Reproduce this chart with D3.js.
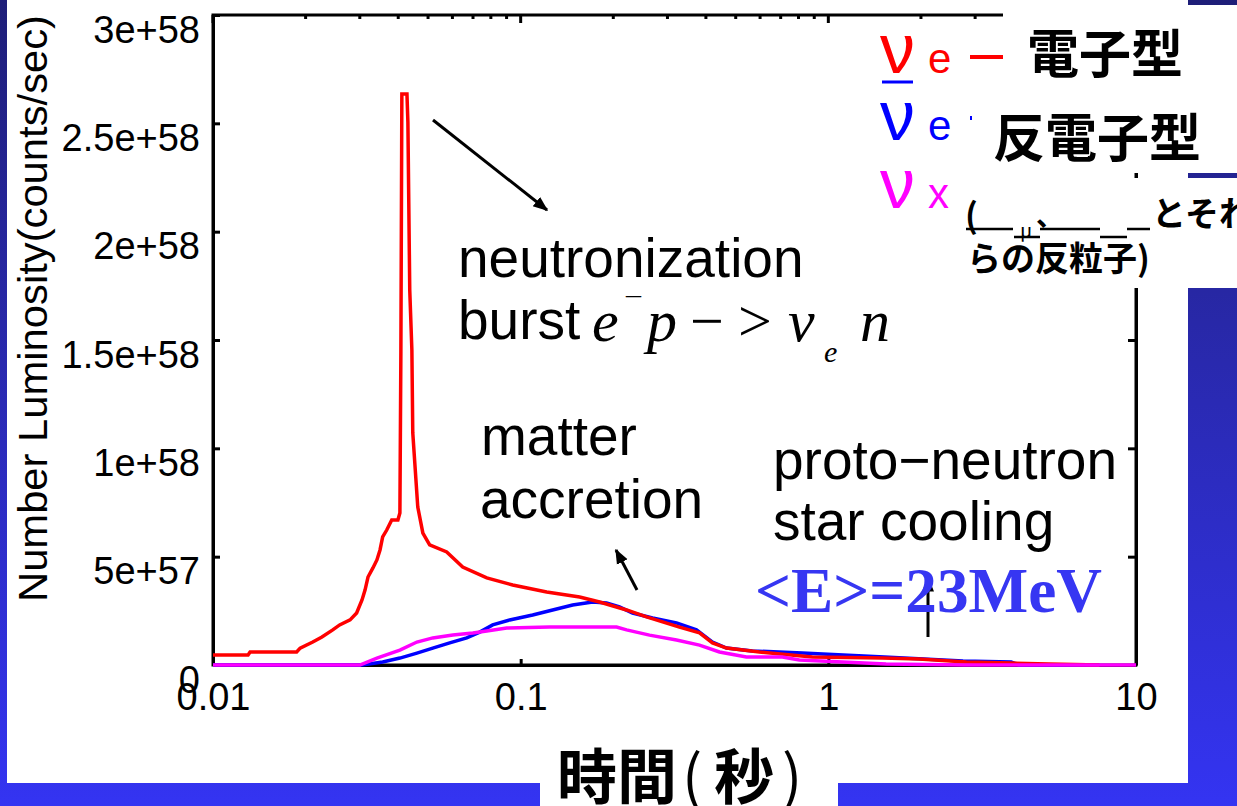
<!DOCTYPE html>
<html>
<head>
<meta charset="utf-8">
<script src="https://cdn.jsdelivr.net/npm/d3@7"></script>
<style>
  body { margin: 0; background: #fff; }
  svg { display: block; }
</style>
</head>
<body>
<div id="chart"></div>
<script>
// time in seconds, luminosity in units of 1e58 counts/sec
const redTime = [0.01, 0.013, 0.0132, 0.0187, 0.0192, 0.0211, 0.0226, 0.0245, 0.0258, 0.0279, 0.0293, 0.0305, 0.0312, 0.0319, 0.0331, 0.0341, 0.0349, 0.0356, 0.0367, 0.0381, 0.0399, 0.0405, 0.0408, 0.0411, 0.0427, 0.0430, 0.0436, 0.0443, 0.0446, 0.0463, 0.0481, 0.0506, 0.0575, 0.0648, 0.0776, 0.0942, 0.1215, 0.1555, 0.1805, 0.2209, 0.2565, 0.3283, 0.3813, 0.4202, 0.4666, 0.597, 0.887, 1.50, 1.97, 2.81, 3.93, 5.2, 7.6];
const redLum = [0.046, 0.046, 0.060, 0.060, 0.078, 0.106, 0.129, 0.162, 0.185, 0.208, 0.240, 0.300, 0.346, 0.406, 0.448, 0.485, 0.531, 0.591, 0.623, 0.669, 0.669, 0.702, 1.445, 2.635, 2.635, 2.506, 1.731, 1.454, 1.071, 0.729, 0.609, 0.554, 0.522, 0.452, 0.402, 0.369, 0.337, 0.314, 0.291, 0.254, 0.222, 0.175, 0.148, 0.102, 0.078, 0.060, 0.037, 0.032, 0.028, 0.014, 0.009, 0.005, 0];

const blueTime = [0.01, 0.0305, 0.0356, 0.0405, 0.0460, 0.0518, 0.0588, 0.0668, 0.0736, 0.0811, 0.0921, 0.1094, 0.127, 0.1475, 0.1713, 0.1902, 0.2096, 0.231, 0.2683, 0.321, 0.3727, 0.4202, 0.4666, 0.566, 0.824, 1.52, 2.74, 3.93, 4.17, 7.6];
const blueLum = [0, 0, 0.014, 0.032, 0.055, 0.078, 0.102, 0.125, 0.152, 0.185, 0.208, 0.231, 0.254, 0.277, 0.291, 0.286, 0.268, 0.240, 0.217, 0.194, 0.162, 0.106, 0.078, 0.065, 0.055, 0.037, 0.018, 0.014, 0, 0];

const magTime = [0.01, 0.0300, 0.0341, 0.0405, 0.0460, 0.0518, 0.0602, 0.0699, 0.0776, 0.0901, 0.1243, 0.205, 0.2209, 0.2623, 0.321, 0.3813, 0.4427, 0.5417, 0.709, 0.805, 1.54, 2.76, 10];
const magLum = [0, 0, 0.032, 0.069, 0.106, 0.125, 0.138, 0.148, 0.157, 0.171, 0.175, 0.175, 0.162, 0.138, 0.115, 0.092, 0.060, 0.037, 0.037, 0.023, 0.005, 0, 0];

const yTicks = [0, 0.5, 1, 1.5, 2, 2.5, 3];
const yTickLabels = ["0", "5e+57", "1e+58", "1.5e+58", "2e+58", "2.5e+58", "3e+58"];
const xTicks = [0.01, 0.1, 1, 10];
const xTickLabels = ["0.01", "0.1", "1", "10"];

const W = 1237, H = 806;
const SANS = "'Liberation Sans', Arial, sans-serif";
const SERIF = "'Liberation Serif', 'Times New Roman', serif";
const CJK = "'Noto Sans CJK JP', 'Noto Sans CJK SC', sans-serif";

let svg = d3.select("#chart").append("svg").attr("width", W).attr("height", H);
let defs = svg.append("defs");

// slide background
let grad = defs.append("linearGradient").attr("id", "bg").attr("x1", 0).attr("y1", 0).attr("x2", 0).attr("y2", 1);
grad.append("stop").attr("offset", "0%").attr("stop-color", "#1e1e78");
grad.append("stop").attr("offset", "40%").attr("stop-color", "#2828a8");
grad.append("stop").attr("offset", "100%").attr("stop-color", "#3434f2");
svg.append("rect").attr("width", W).attr("height", H).attr("fill", "url(#bg)");

// white picture area
svg.append("rect").attr("x", 7).attr("y", 0).attr("width", 1181).attr("height", 783).attr("fill", "#fff");

defs.append("marker")
  .attr("id", "head")
  .attr("viewBox", "0 0 10 10")
  .attr("refX", 9).attr("refY", 5)
  .attr("markerWidth", 5).attr("markerHeight", 5)
  .attr("orient", "auto")
  .append("path").attr("d", "M0,1L10,5L0,9Z").attr("fill", "#000");

let x = d3.scaleLog().domain([0.01, 10]).range([213, 1136]);
let y = d3.scaleLinear().domain([0, 3]).range([665, 15]);

// frame
svg.append("rect")
  .attr("x", x(0.01)).attr("y", y(3))
  .attr("width", x(10) - x(0.01)).attr("height", y(0) - y(3))
  .attr("fill", "none").attr("stroke", "#000").attr("stroke-width", 3);

let gLeft = svg.append("g").attr("transform", "translate(" + x(0.01) + ",0)")
  .call(d3.axisLeft(y).tickValues(yTicks).tickFormat((d, i) => yTickLabels[i])
    .tickSizeInner(-7).tickSizeOuter(0).tickPadding(13));
gLeft.selectAll("text").attr("dy", 27).attr("font-size", 38).attr("font-family", SANS).attr("fill", "#000");

let gRight = svg.append("g").attr("transform", "translate(" + x(10) + ",0)")
  .call(d3.axisRight(y).tickValues(yTicks).tickFormat("").tickSizeInner(-8).tickSizeOuter(0));

let gBottom = svg.append("g").attr("transform", "translate(0," + y(0) + ")")
  .call(d3.axisBottom(x).tickValues(xTicks).tickFormat((d, i) => xTickLabels[i])
    .tickSizeInner(-6).tickSizeOuter(0));
gBottom.selectAll("text").attr("y", 45).attr("dy", 0).attr("font-size", 38).attr("font-family", SANS).attr("fill", "#000");

[gLeft, gRight, gBottom].forEach(function (g) {
  g.selectAll(".domain").attr("stroke-width", 3);
  g.selectAll(".tick line").attr("stroke-width", 3);
});

// top axis minor / major ticks
svg.append("g").selectAll("line")
  .data(x.ticks())
  .join("line")
  .attr("x1", d => x(d)).attr("x2", d => x(d))
  .attr("y1", y(3))
  .attr("y2", d => y(3) + (Math.abs(Math.log10(d) - Math.round(Math.log10(d))) < 1e-6 ? 8 : 4))
  .attr("stroke", "#000").attr("stroke-width", 3);

// curves
let line = d3.line().x(d => x(d[0])).y(d => y(d[1]));
let series = [
  { color: "#0000ff", pts: d3.zip(blueTime, blueLum) },
  { color: "#ff0000", pts: d3.zip(redTime, redLum) },
  { color: "#ff00ff", pts: d3.zip(magTime, magLum) }
];
svg.append("g").selectAll("path")
  .data(series)
  .join("path")
  .attr("d", d => line(d.pts))
  .attr("fill", "none")
  .attr("stroke", d => d.color)
  .attr("stroke-width", 3.5);

// axis titles
svg.append("text")
  .attr("transform", "translate(47,602) rotate(-90)")
  .attr("font-family", SANS).attr("font-size", 41)
  .attr("textLength", 587).attr("lengthAdjust", "spacingAndGlyphs")
  .text("Number Luminosity(counts/sec)");

// annotations
function label(txt, px, py, size) {
  svg.append("text").attr("x", px).attr("y", py)
    .attr("font-family", SANS).attr("font-size", size || 55).attr("fill", "#000").text(txt);
}
label("neutronization", 458, 277);
label("burst", 458, 339);
label("matter", 481, 455);
label("accretion", 480, 518);
label("proto\u2212neutron", 773, 479);
label("star cooling", 773, 540);

let math = svg.append("g").attr("font-family", SERIF).attr("font-style", "italic").attr("fill", "#000");
math.append("text").attr("x", 592).attr("y", 341).attr("font-size", 60).text("e");
math.append("text").attr("x", 626).attr("y", 318).attr("font-size", 30).attr("font-style", "normal").text("\u00af");
math.append("text").attr("x", 647).attr("y", 341).attr("font-size", 60).text("p");
math.append("text").attr("x", 690).attr("y", 341).attr("font-size", 60).attr("font-style", "normal").text("\u2212");
math.append("text").attr("x", 738).attr("y", 341).attr("font-size", 60).attr("font-style", "normal").text(">");
math.append("text").attr("x", 788).attr("y", 341).attr("font-size", 60).text("\u03bd");
math.append("text").attr("x", 824).attr("y", 362).attr("font-size", 30).text("e");
math.append("text").attr("x", 860).attr("y", 341).attr("font-size", 60).text("n");

function arrow(x1, y1, x2, y2) {
  svg.append("line").attr("x1", x1).attr("y1", y1).attr("x2", x2).attr("y2", y2)
    .attr("stroke", "#000").attr("stroke-width", 3).attr("marker-end", "url(#head)");
}
arrow(433, 120, 547, 210);
arrow(637, 590, 616, 550);
arrow(928, 637, 928, 578);

svg.append("text")
  .attr("x", 755).attr("y", 612)
  .attr("font-family", SERIF).attr("font-weight", "bold").attr("font-size", 64)
  .attr("fill", "#3636f2")
  .attr("textLength", 347).attr("lengthAdjust", "spacingAndGlyphs")
  .text("<E>=23MeV");

// chart key (partly hidden by the slide boxes)
let key = svg.append("g").attr("font-family", SANS);
[["#ff0000", 73, "e", 57], ["#0000ff", 140, "e", 118], ["#ff00ff", 208, "x", 185]].forEach(function (k) {
  key.append("text").attr("x", 880).attr("y", k[1]).attr("font-size", 70).attr("fill", k[0]).text("\u03bd");
  key.append("text").attr("x", 928).attr("y", k[1]).attr("font-size", 42).attr("fill", k[0]).text(k[2]);
  key.append("line").attr("x1", 970).attr("x2", 1012).attr("y1", k[3]).attr("y2", k[3])
    .attr("stroke", k[0]).attr("stroke-width", 4);
});
key.append("line").attr("x1", 882).attr("x2", 913).attr("y1", 82).attr("y2", 82)
  .attr("stroke", "#0000ff").attr("stroke-width", 3);

// slide text boxes
svg.append("rect").attr("x", 1003).attr("y", 5).attr("width", 234).attr("height", 92).attr("fill", "#fff");
svg.append("rect").attr("x", 972).attr("y", 96).attr("width", 265).attr("height", 77).attr("fill", "#fff");
svg.append("rect").attr("x", 962).attr("y", 178).attr("width", 275).attr("height", 110).attr("fill", "#fff");

let cjk = svg.append("g").attr("font-family", CJK).attr("font-weight", "bold").attr("fill", "#000");
cjk.append("text").attr("x", 1027).attr("y", 50).attr("dominant-baseline", "central").attr("font-size", 52).text("電子型");
cjk.append("text").attr("x", 993).attr("y", 134).attr("dominant-baseline", "central").attr("font-size", 52).text("反電子型");
cjk.append("text").attr("x", 965).attr("y", 213).attr("dominant-baseline", "central").attr("font-size", 34).text("(");
cjk.append("text").attr("x", 1020).attr("y", 238).attr("font-size", 20).attr("font-weight", "normal").text("μ");
cjk.append("text").attr("x", 1036).attr("y", 214).attr("dominant-baseline", "central").attr("font-size", 28).text("、");
cjk.append("text").attr("x", 1152).attr("y", 211).attr("dominant-baseline", "central").attr("font-size", 34).text("とそれ");
cjk.append("text").attr("x", 967).attr("y", 256).attr("dominant-baseline", "central").attr("font-size", 34).text("らの反粒子)");
[[966, 1013, 229], [1040, 1100, 229], [1127, 1150, 229], [1014, 1040, 237], [1100, 1127, 237]].forEach(function (s) {
  svg.append("line").attr("x1", s[0]).attr("x2", s[1]).attr("y1", s[2]).attr("y2", s[2])
    .attr("stroke", "#000").attr("stroke-width", 2.5);
});

// x axis title box
svg.append("rect").attr("x", 540).attr("y", 775).attr("width", 298).attr("height", 31).attr("fill", "#fff");
let xt = svg.append("text").attr("y", 772).attr("dominant-baseline", "central")
  .attr("font-family", CJK).attr("font-size", 60).attr("fill", "#000");
xt.append("tspan").attr("x", 557).attr("font-weight", "bold").text("時間");
xt.append("tspan").attr("x", 682).text("(");
xt.append("tspan").attr("x", 714).attr("font-weight", "bold").text("秒");
xt.append("tspan").attr("x", 782).text(")");
</script>
</body>
</html>
